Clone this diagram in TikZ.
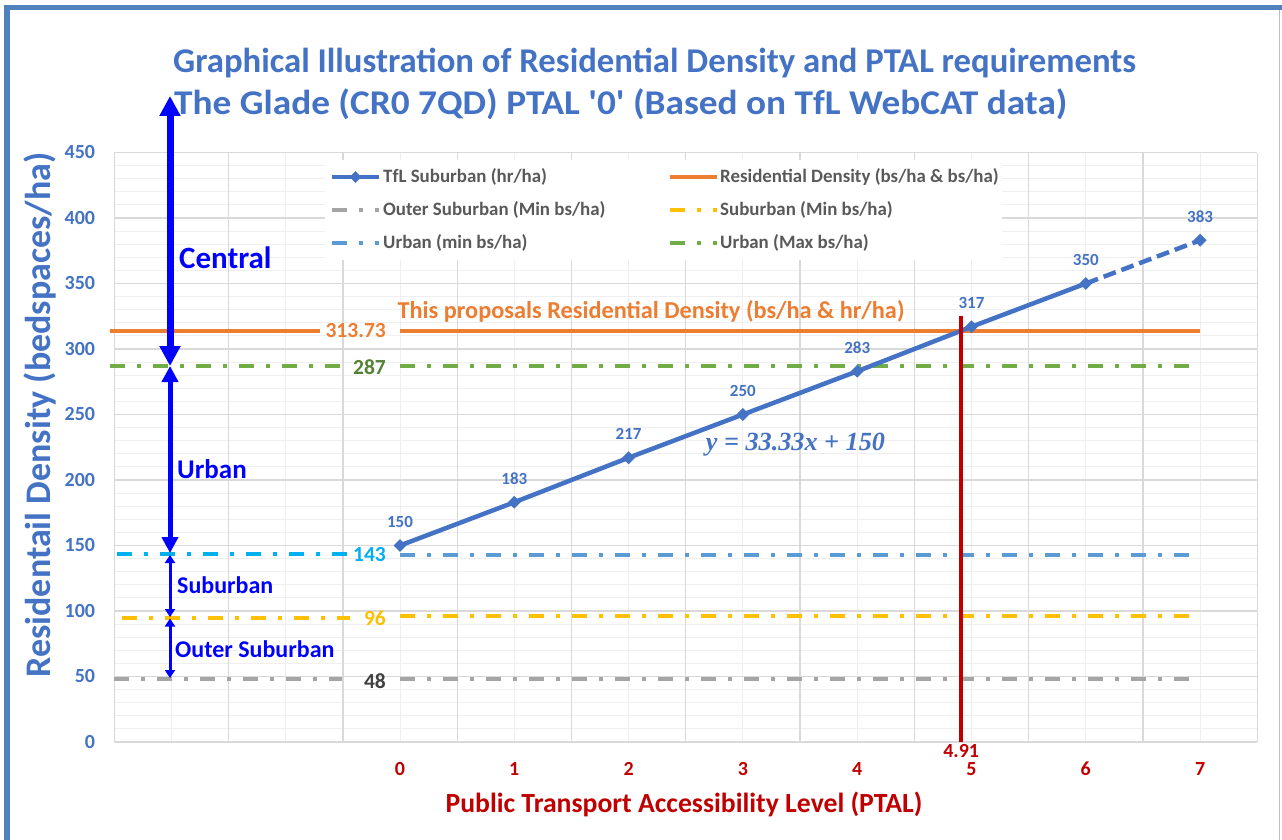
\documentclass[tikz,border=0pt]{standalone}
\usepackage{fontspec}
\setmainfont{Carlito}
\newfontfamily\eqfont{Liberation Serif}
\usetikzlibrary{arrows.meta,shapes.geometric}
\definecolor{titleblue}{HTML}{4472C4}
\definecolor{frameblue}{HTML}{4F81BD}
\definecolor{resorange}{HTML}{ED7D31}
\definecolor{urbgreen}{HTML}{70AD47}
\definecolor{lblgreen}{HTML}{548235}
\definecolor{urbblue}{HTML}{5B9BD5}
\definecolor{lblcyan}{HTML}{00B0F0}
\definecolor{subyellow}{HTML}{FFC000}
\definecolor{outgray}{HTML}{A5A5A5}
\definecolor{lbldark}{HTML}{404040}
\definecolor{ptalred}{HTML}{C00000}
\definecolor{zoneblue}{HTML}{0000FF}
\definecolor{majgrid}{HTML}{D9D9D9}
\definecolor{mingrid}{HTML}{EFEFEF}
\definecolor{legtext}{HTML}{595959}
\tikzset{
  fs/.style={font=\fontsize{#1}{#1}\selectfont\bfseries, inner sep=0pt},
  dashdot/.style={line width=4pt, dash pattern=on 15pt off 12pt on 4pt off 12pt},
  tmark/.style={diamond, fill=titleblue, inner sep=0pt, minimum size=13pt},
  datalbl/.style={fs=17, text=titleblue, yshift=24pt},
  legtxt/.style={fs=18.9, text=legtext, anchor=west},
  zone/.style={zoneblue, line width=#1},
}
\begin{document}
\begin{tikzpicture}[x=1pt,y=-1pt]
\useasboundingbox (0,0) rectangle (1282,840);
\fill[white] (0,0) rectangle (1282,840);
% frame
\draw[frameblue, line width=6pt] (7,5) -- (7,840);
\draw[frameblue, line width=5pt] (4,7.5) -- (1282,7.5);
\draw[majgrid!70!gray, line width=1.5pt] (1279.5,10) -- (1279.5,840);
% titles
\node[fs=34.7, text=titleblue, anchor=west] (title1) at (173,63) {Graphical Illustration of Residential Density and PTAL requirements};
\node[fs=34.7, text=titleblue, anchor=west, xscale=1.075] (title2) at (174,104) {The Glade (CR0 7QD) PTAL \textquotesingle0\textquotesingle\ (Based on TfL WebCAT data)};
\node[fs=36, text=titleblue, rotate=90] (ytitle) at (40,415) {Residentail Density (bedspaces/ha)};
\node[fs=27.7, text=ptalred] (xtitle) at (684,804) {Public Transport Accessibility Level (PTAL)};

\begin{scope}[shift={(400,742)}, x=114.3pt, y=1.31pt]
% grid
\foreach \v in {10,20,...,450}
  \draw[mingrid, line width=1pt] (-2.5,\v) -- (7.5,\v);
\foreach \k in {-2,...,7}
  \draw[mingrid, line width=1pt] (\k,0) -- (\k,450);
\foreach \v in {50,100,...,450}
  \draw[majgrid, line width=1.3pt] (-2.5,\v) -- (7.5,\v);
\foreach \k in {-2,...,7}
  \draw[majgrid, line width=1.3pt] (\k+0.5,0) -- (\k+0.5,450);
\draw[majgrid, line width=1.5pt] (-2.5,450) -- (-2.5,0) -- (7.5,0);
% tick labels
\foreach \v in {0,50,...,450}
  \node[fs=20, text=titleblue, anchor=east, xshift=-19pt] (yt\v) at (-2.5,\v) {\v};
\foreach \k in {0,...,7}
  \node[fs=20, text=ptalred, yshift=-27pt] (xt\k) at (\k,0) {\k};
% legend box
\fill[white] (-0.66,444) rectangle (5.27,368);
% level lines, chart part
\draw[outgray, dashdot] (0,48) -- (7,48);
\draw[subyellow, dashdot] (0,96) -- (7,96);
\draw[urbblue, dashdot] (0,143) -- (7,143);
\draw[urbgreen, dashdot] (0,287) -- (7,287);
\draw[resorange, line width=4pt] (0,313.73) -- (7,313.73);
% TfL suburban series
\foreach \k/\v in {0/150,1/183,2/217,3/250,4/283,5/317,6/350,7/383}
  \coordinate (p\k) at (\k,\v);
\draw[titleblue, line width=4.5pt, line join=round]
  (p0) -- (p1) -- (p2) -- (p3) -- (p4) -- (p5) -- (p6);
\draw[titleblue, line width=4.5pt, dash pattern=on 13pt off 6pt] (p6) -- (p7);
\foreach \k/\v in {0/150,1/183,2/217,3/250,4/283,5/317,6/350,7/383} {
  \node[tmark] (m\k) at (p\k) {};
  \node[datalbl] (d\k) at (p\k) {\v};
}
% PTAL 4.91
\coordinate (rtop) at (4.91,325.2);
\coordinate (rbot) at (4.91,0);
\draw[ptalred, line width=4pt] (rtop) -- (rbot);
\node[fs=20, text=ptalred, below=2pt] (rlbl) at (rbot) {4.91};
\node[font=\fontsize{26.2}{26.2}\selectfont\eqfont\bfseries\itshape, text=titleblue, inner sep=0pt]
  (eqn) at (3.46,227) {y = 33.33x + 150};
\end{scope}

% proposal line and level labels
\draw[resorange, line width=4pt] (110,330.5) -- (320,330.5);
\draw[urbgreen, dashdot] (110,366) -- (340,366);
\draw[lblcyan, dashdot] (117,554) -- (348,554);
\draw[subyellow, dashdot] (122,618) -- (350,618);
\draw[outgray, dashdot] (114,679) -- (342,679);
\node[fs=24.3, text=resorange] (proptxt) at (651,311) {This proposals Residential Density (bs/ha \& hr/ha)};
\node[fs=21.5, text=resorange, anchor=east] (v313) at (386,331) {313.73};
\node[fs=21.5, text=lblgreen, anchor=east] (v287) at (386,367) {287};
\node[fs=21.5, text=lblcyan, anchor=east] (v143) at (386,555) {143};
\node[fs=21.5, text=subyellow, anchor=east] (v96) at (386,618) {96};
\node[fs=21.5, text=lbldark, anchor=east] (v48) at (386,681) {48};

% legend
\draw[titleblue, line width=4pt] (332,177) -- (379,177);
\node[tmark, minimum size=12pt] (lgm) at (355.5,177) {};
\node[legtxt] (lg1) at (383,177) {TfL Suburban (hr/ha)};
\draw[resorange, line width=4pt] (670,177) -- (717,177);
\node[legtxt] (lg2) at (720,177) {Residential Density (bs/ha \& bs/ha)};
\draw[outgray, dashdot] (332,210) -- (379,210);
\node[legtxt] (lg3) at (383,210) {Outer Suburban (Min bs/ha)};
\draw[subyellow, dashdot] (670,210) -- (717,210);
\node[legtxt] (lg4) at (720,210) {Suburban (Min bs/ha)};
\draw[urbblue, dashdot] (332,243) -- (379,243);
\node[legtxt] (lg5) at (383,243) {Urban (min bs/ha)};
\draw[urbgreen, dashdot] (670,243) -- (717,243);
\node[legtxt] (lg6) at (720,243) {Urban (Max bs/ha)};

% zone arrows
\coordinate (ztop) at (170,96);
\coordinate (zurb) at (170,366);
\coordinate (zsub) at (170,553);
\coordinate (zsub2) at (170,555);
\coordinate (zout) at (170,617);
\coordinate (zout2) at (170,618.5);
\coordinate (zbot) at (170,678);
\draw[zone=7pt, {Triangle[width=20pt,length=20pt]}-{Triangle[width=20pt,length=20pt]}] (ztop) -- (zurb);
\draw[zone=5pt, {Triangle[width=16pt,length=16pt]}-{Triangle[width=16pt,length=16pt]}] (zurb) -- (zsub);
\draw[zone=3pt, {Triangle[width=10pt,length=8pt]}-{Triangle[width=10pt,length=8pt]}] (zsub2) -- (zout);
\draw[zone=3pt, {Triangle[width=10pt,length=8pt]}-{Triangle[width=10pt,length=8pt]}] (zout2) -- (zbot);
\node[fs=31, text=zoneblue, anchor=west] (zc) at (179,258) {Central};
\node[fs=27, text=zoneblue, anchor=west] (zu) at (177,469) {Urban};
\node[fs=24, text=zoneblue, anchor=west] (zs) at (177,585) {Suburban};
\node[fs=24, text=zoneblue, anchor=west] (zo) at (175,649) {Outer Suburban};
\end{tikzpicture}
\end{document}
